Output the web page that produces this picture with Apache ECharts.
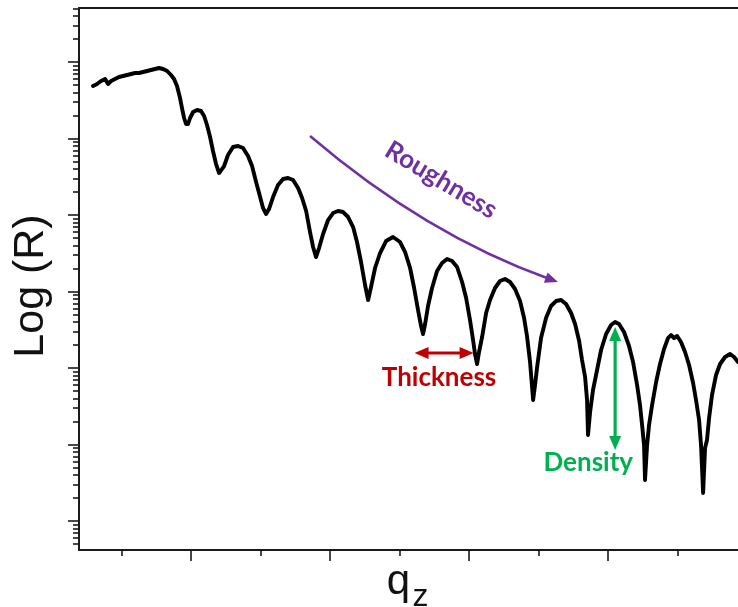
<!DOCTYPE html>
<html>
<head>
<meta charset="utf-8">
<script src="https://cdn.jsdelivr.net/npm/echarts@6/dist/echarts.min.js"></script>
<style>
  html, body { margin: 0; padding: 0; background: #ffffff; }
  #chart { width: 738px; height: 607px; }
</style>
</head>
<body>
<div id="chart"></div>
<script>
// X-ray reflectivity curve: scattering vector q_z and log10 of reflectivity
const qz = [
  0.0297, 0.0326, 0.0355, 0.0384, 0.0405, 0.0427, 0.0455, 0.0484, 0.0513, 0.0542,
  0.0571, 0.0599, 0.0628, 0.0657, 0.0686, 0.0714, 0.0743, 0.0772, 0.0801, 0.0830,
  0.0858, 0.0880, 0.0901, 0.0923, 0.0937, 0.0952, 0.0966, 0.0981, 0.0995, 0.1017,
  0.1045, 0.1074, 0.1096, 0.1117, 0.1139, 0.1160, 0.1182, 0.1204, 0.1218, 0.1240,
  0.1268, 0.1304, 0.1340, 0.1376, 0.1412, 0.1441, 0.1470, 0.1499, 0.1520, 0.1542,
  0.1563, 0.1592, 0.1628, 0.1664, 0.1700, 0.1736, 0.1772, 0.1801, 0.1830, 0.1858,
  0.1880, 0.1901, 0.1923, 0.1952, 0.1988, 0.2024, 0.2060, 0.2096, 0.2132, 0.2168,
  0.2196, 0.2225, 0.2254, 0.2276, 0.2297, 0.2326, 0.2362, 0.2405, 0.2455, 0.2506,
  0.2542, 0.2578, 0.2607, 0.2635, 0.2657, 0.2671, 0.2686, 0.2707, 0.2736, 0.2772,
  0.2808, 0.2844, 0.2880, 0.2916, 0.2952, 0.2981, 0.3009, 0.3031, 0.3045, 0.3060,
  0.3074, 0.3096, 0.3125, 0.3153, 0.3189, 0.3225, 0.3261, 0.3297, 0.3333, 0.3369,
  0.3398, 0.3419, 0.3441, 0.3455, 0.3463, 0.3477, 0.3491, 0.3520, 0.3556, 0.3592,
  0.3628, 0.3664, 0.3700, 0.3736, 0.3765, 0.3794, 0.3815, 0.3837, 0.3851, 0.3858,
  0.3873, 0.3894, 0.3923, 0.3952, 0.3988, 0.4024, 0.4053, 0.4081, 0.4117, 0.4153,
  0.4182, 0.4211, 0.4232, 0.4247, 0.4261, 0.4268, 0.4283, 0.4297, 0.4319, 0.4348,
  0.4376, 0.4405, 0.4434, 0.4455, 0.4477, 0.4499, 0.4527, 0.4556, 0.4585, 0.4614,
  0.4635, 0.4657, 0.4671, 0.4686, 0.4700, 0.4714, 0.4729, 0.4750, 0.4779, 0.4808,
  0.4844, 0.4880, 0.4909, 0.4937
];
const logR = [
  -0.3137, -0.2876, -0.2484, -0.2222, -0.2876, -0.2484, -0.2222, -0.1961, -0.1830, -0.1699,
  -0.1569, -0.1438, -0.1438, -0.1307, -0.1176, -0.1046, -0.0915, -0.0784, -0.0915, -0.1176,
  -0.1699, -0.2222, -0.3137, -0.4706, -0.6013, -0.7320, -0.8105, -0.8105, -0.7320, -0.6536,
  -0.6275, -0.6405, -0.7059, -0.8235, -0.9804, -1.1634, -1.3333, -1.4510, -1.4510, -1.3595,
  -1.2157, -1.1111, -1.0980, -1.1242, -1.2288, -1.3595, -1.5686, -1.7647, -1.9085, -1.9869,
  -1.9216, -1.7647, -1.6078, -1.5294, -1.5163, -1.5425, -1.6471, -1.7778, -1.9477, -2.2222,
  -2.4183, -2.5490, -2.4314, -2.2484, -2.0654, -1.9739, -1.9477, -1.9608, -2.0261, -2.1569,
  -2.3529, -2.6144, -2.9150, -3.1111, -2.9412, -2.6928, -2.4967, -2.3399, -2.2876, -2.3529,
  -2.4837, -2.6928, -2.9542, -3.2418, -3.4510, -3.5556, -3.4248, -3.1895, -2.9542, -2.7320,
  -2.6275, -2.5752, -2.6013, -2.6797, -2.8758, -3.0850, -3.3725, -3.6340, -3.8170, -3.9477,
  -3.7908, -3.5948, -3.2810, -3.1111, -2.9542, -2.8627, -2.8366, -2.8758, -2.9673, -3.1242,
  -3.3464, -3.5817, -3.9216, -4.2353, -4.4183, -4.2222, -4.0000, -3.6078, -3.3464, -3.1895,
  -3.1242, -3.1111, -3.1634, -3.2810, -3.4248, -3.6471, -3.8954, -4.1176, -4.4183, -4.8758,
  -4.5752, -4.2876, -4.0261, -3.7647, -3.5556, -3.4379, -3.3987, -3.4248, -3.5294, -3.7124,
  -3.9216, -4.2222, -4.4837, -4.7451, -5.0065, -5.4641, -5.0065, -4.7451, -4.4837, -4.1830,
  -3.9477, -3.7516, -3.6078, -3.5686, -3.6078, -3.5817, -3.6601, -3.7908, -3.9608, -4.1961,
  -4.4183, -4.6797, -5.0065, -5.6340, -5.0458, -4.9412, -4.6536, -4.3529, -4.0915, -3.9477,
  -3.8562, -3.8170, -3.8562, -3.9216
];

// Axis extents and tick positions (no tick labels are printed)
const qRange = [0.0196, 0.4937];
const logRange = [-6.379, 0.706];
const majorQ = [0.1, 0.2, 0.3, 0.4];
const minorQ = [0.05, 0.15, 0.25, 0.35, 0.45];
const decades = [-6, -5, -4, -3, -2, -1, 0];

// Annotations, anchored in data units
const roughness = { from: [0.1858, -0.9673], ctrl: [0.2693, -2.2614], to: [0.3642, -2.8758],
                    label: [0.2801, -1.5425], text: 'Roughness', color: '#7030A0' };
const thickness = { from: [0.2610, -3.8039], to: [0.3035, -3.8039],
                    label: [0.2786, -4.1307], text: 'Thickness', color: '#C00000' };
const density   = { from: [0.4053, -3.4641], to: [0.4053, -5.0719],
                    label: [0.3860, -5.2418], text: 'Density', color: '#00B050' };

// minor ticks of a log scale: n + log10(k), k = 2..9
const minorLog = [];
for (let n = -7; n <= 0; n++) {
  for (let k = 2; k <= 9; k++) {
    const v = n + Math.log10(k);
    if (v > logRange[0] && v < logRange[1]) minorLog.push(+v.toFixed(4));
  }
}

const AXIS = '#1a1a1a';
const TITLE_FONT = 'Liberation Sans, Arial, sans-serif';
const chart = echarts.init(document.getElementById('chart'), null, { renderer: 'canvas' });

function baseAxis(extra) {
  return Object.assign({
    type: 'value',
    axisLabel: { show: false },
    splitLine: { show: false }
  }, extra);
}

chart.setOption({
  animation: false,
  backgroundColor: '#ffffff',
  grid: { left: 79, right: 0, top: 8, bottom: 57, containLabel: false, outerBoundsMode: 'none' },
  xAxis: [
    baseAxis({
      min: qRange[0], max: qRange[1], position: 'bottom',
      axisLine: { show: true, onZero: false, lineStyle: { color: AXIS, width: 2 } },
      axisTick: { show: true, customValues: majorQ, length: 11, lineStyle: { color: AXIS, width: 1.6 } },
      name: 'q', nameLocation: 'middle', nameGap: 11,
      nameTextStyle: { fontFamily: TITLE_FONT, fontSize: 42, lineHeight: 42, color: '#111',
                       padding: [0, 20, 0, 0] }
    }),
    baseAxis({
      min: qRange[0], max: qRange[1], position: 'bottom',
      axisLine: { show: false, onZero: false },
      axisTick: { show: true, customValues: minorQ, length: 6, lineStyle: { color: AXIS, width: 1.6 } },
      // subscript of the axis title
      name: 'z', nameLocation: 'middle', nameGap: 31,
      nameTextStyle: { fontFamily: TITLE_FONT, fontSize: 32, lineHeight: 32, color: '#111',
                       padding: [0, 0, 0, 24] }
    }),
    baseAxis({
      min: qRange[0], max: qRange[1], position: 'top',
      axisLine: { show: true, onZero: false, lineStyle: { color: AXIS, width: 2 } },
      axisTick: { show: false }
    })
  ],
  yAxis: [
    baseAxis({
      min: logRange[0], max: logRange[1], position: 'left',
      axisLine: { show: true, onZero: false, lineStyle: { color: AXIS, width: 2 } },
      axisTick: { show: true, customValues: decades, length: 11, lineStyle: { color: AXIS, width: 1.6 } },
      name: 'Log (R)', nameLocation: 'middle', nameGap: 26, nameRotate: 90,
      nameTextStyle: { fontFamily: TITLE_FONT, fontSize: 43, color: '#111', padding: [0, 14, 0, 0] }
    }),
    baseAxis({
      min: logRange[0], max: logRange[1], position: 'left',
      axisLine: { show: false, onZero: false },
      axisTick: { show: true, customValues: minorLog, length: 6, lineStyle: { color: AXIS, width: 1.6 } }
    })
  ],
  series: [{
    type: 'line',
    xAxisIndex: 0, yAxisIndex: 0,
    data: qz.map((q, i) => [q, logR[i]]),
    showSymbol: false,
    smooth: false,
    clip: true,
    lineStyle: { color: '#000000', width: 3.9, join: 'round', cap: 'round' }
  }]
});

// ---- annotation arrows and labels ----
const px = p => chart.convertToPixel({ seriesIndex: 0 }, p);

function headPoints(tip, dir, len, halfW) {
  const d = Math.hypot(dir[0], dir[1]);
  const ux = dir[0] / d, uy = dir[1] / d;
  const bx = tip[0] - ux * len, by = tip[1] - uy * len;
  return [[tip[0], tip[1]], [bx - uy * halfW, by + ux * halfW], [bx + uy * halfW, by - ux * halfW]];
}

function trim(p, dir, by) {
  const d = Math.hypot(dir[0], dir[1]);
  return [p[0] - dir[0] / d * by, p[1] - dir[1] / d * by];
}

const LABEL_FONT = 'Lato, "Open Sans", sans-serif';
function label(pos, text, color, rotationDeg) {
  return {
    type: 'text', x: pos[0], y: pos[1], rotation: (rotationDeg || 0) * Math.PI / 180, z: 20,
    style: {
      text: text, fill: color, fontFamily: LABEL_FONT, fontSize: 26, fontWeight: 'bold',
      align: 'center', verticalAlign: 'middle', textAlign: 'center', textVerticalAlign: 'middle'
    }
  };
}

function doubleArrow(a, b, color, width, len, halfW) {
  const A = px(a), B = px(b);
  const dirAB = [B[0] - A[0], B[1] - A[1]];
  const dirBA = [-dirAB[0], -dirAB[1]];
  const s = trim(A, dirBA, len * 0.8), e = trim(B, dirAB, len * 0.8);
  return [
    { type: 'line', z: 20, shape: { x1: s[0], y1: s[1], x2: e[0], y2: e[1] },
      style: { stroke: color, lineWidth: width } },
    { type: 'polygon', z: 20, shape: { points: headPoints(B, dirAB, len, halfW) }, style: { fill: color } },
    { type: 'polygon', z: 20, shape: { points: headPoints(A, dirBA, len, halfW) }, style: { fill: color } }
  ];
}

const r0 = px(roughness.from), rc = px(roughness.ctrl), r1 = px(roughness.to);
const rDir = [r1[0] - rc[0], r1[1] - rc[1]];
const rEnd = trim(r1, rDir, 9);

const elements = [
  { type: 'bezierCurve', z: 20,
    shape: { x1: r0[0], y1: r0[1], cpx1: rc[0], cpy1: rc[1], x2: rEnd[0], y2: rEnd[1] },
    style: { stroke: roughness.color, lineWidth: 2.5, fill: null } },
  { type: 'polygon', z: 20, shape: { points: headPoints(r1, rDir, 13, 5.5) }, style: { fill: roughness.color } },
  label(px(roughness.label), roughness.text, roughness.color, -31)
]
  .concat(doubleArrow(thickness.from, thickness.to, thickness.color, 3.2, 14, 6))
  .concat([label(px(thickness.label), thickness.text, thickness.color)])
  .concat(doubleArrow(density.from, density.to, density.color, 3.2, 14, 6))
  .concat([label(px(density.label), density.text, density.color)]);

chart.setOption({ graphic: { elements: elements } });
</script>
</body>
</html>
